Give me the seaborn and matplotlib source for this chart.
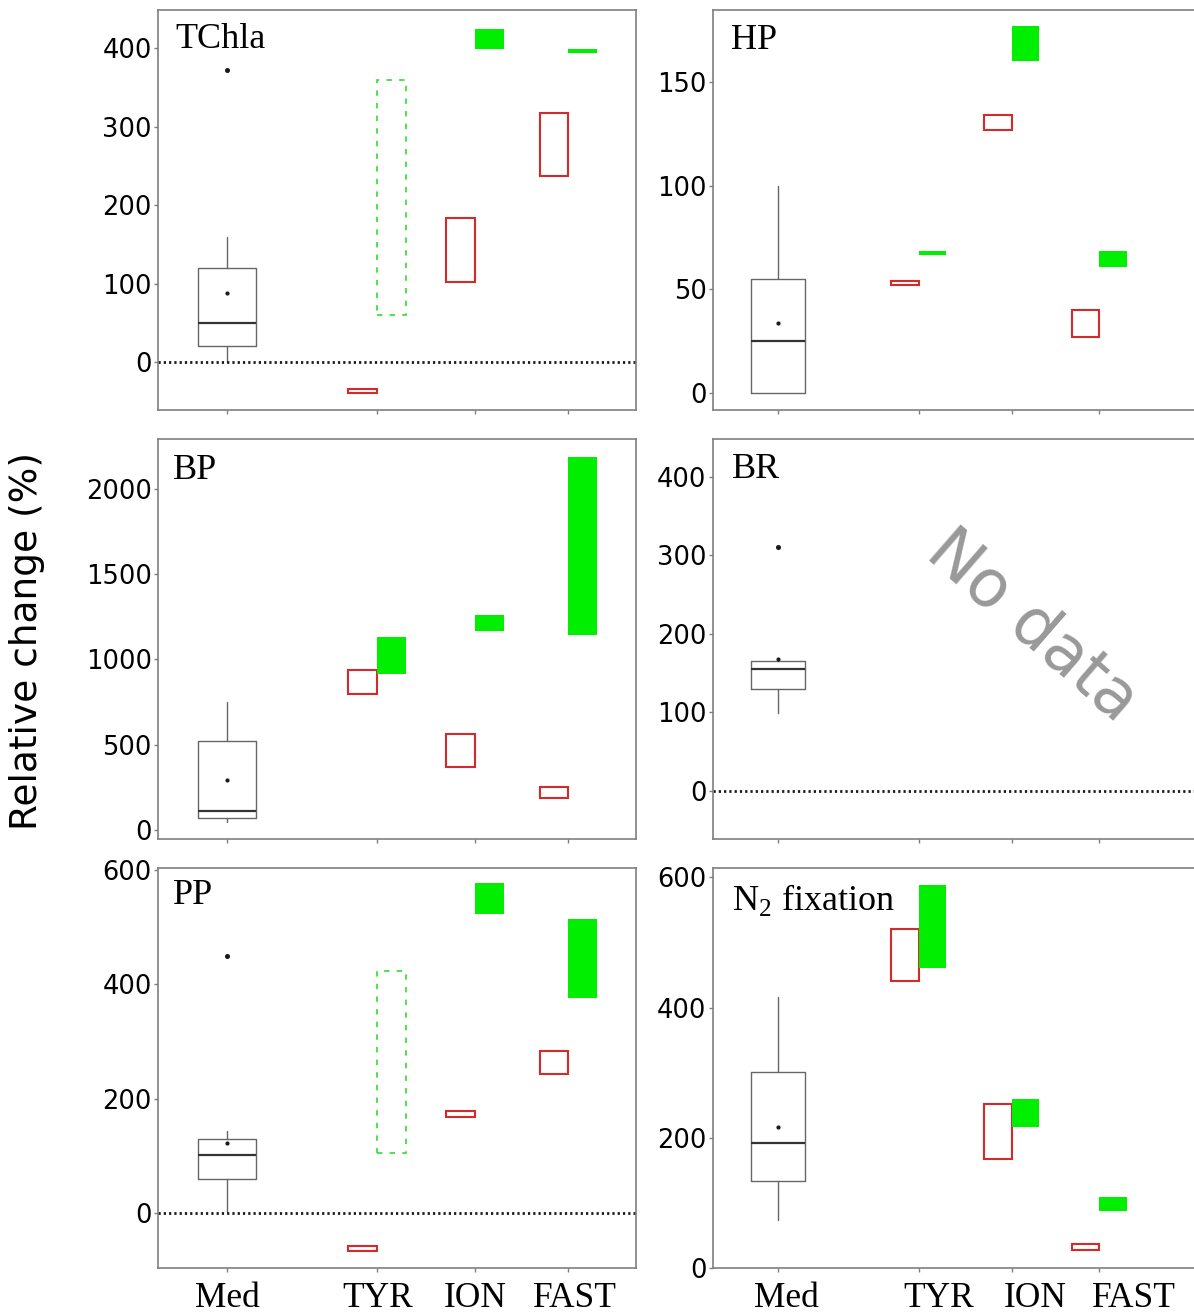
import matplotlib
import seaborn as sns
from matplotlib.transforms import ScaledTranslation, blended_transform_factory

matplotlib.use("Agg")
import matplotlib.pyplot as plt

# Categories and x positions of the regions
regions = ["Med", "TYR", "ION", "FAST"]
region_x = [1.0, 3.17, 4.6, 5.95]

panel_titles = ["TChla", "HP", "BP", "BR", "PP", r"N$_\mathregular{2}$ fixation"]
panel_yticks = [
    [0, 100, 200, 300, 400],
    [0, 50, 100, 150],
    [0, 500, 1000, 1500, 2000],
    [0, 100, 200, 300, 400],
    [0, 200, 400, 600],
    [0, 200, 400, 600],
]
panel_ylim = [(-61, 449), (-8.4, 185), (-55, 2291), (-62, 448), (-96, 604), (0, 615)]
zero_line = [True, False, False, True, True, False]

# Mediterranean box statistics (one value per panel)
med_q1 = [20, 0, 72, 130, 60, 134]
med_median = [50, 25, 113, 155, 101, 192]
med_q3 = [120, 55, 524, 165, 129, 301]
med_whislo = [0, 0, 49, 99, 1, 73]
med_whishi = [159, 100, 749, 165, 144, 417]
med_mean = [88, 33.5, 291, 168, 123, 216]
med_outliers = [[372], [], [], [311], [449], []]

# Ranges (low, high) for TYR, ION, FAST -- red outline boxes
tchla_red = [(-39, -34), (102, 184), (237, 317)]
hp_red = [(52, 54), (127, 134), (27, 40)]
bp_red = [(799, 940), (368, 563), (186, 252)]
br_red = [None, None, None]
pp_red = [(-67, -57), (168, 179), (243, 284)]
n2_red = [(441, 520), (167, 252), (28, 37)]

# Ranges (low, high) for TYR, ION, FAST -- green boxes
tchla_green = [(60, 359), (399, 425), (394.5, 399)]
hp_green = [(66.5, 68.5), (160, 177), (60.5, 68.4)]
bp_green = [(913, 1132), (1165, 1259), (1142, 2188)]
br_green = [None, None, None]
pp_green = [(105, 423), (523, 578), (376, 515)]
n2_green = [(461, 589), (216, 260), (87, 109)]

# Green boxes drawn as dashed outline instead of filled
tchla_dashed = [True, False, False]
hp_dashed = [False, False, False]
bp_dashed = [False, False, False]
br_dashed = [False, False, False]
pp_dashed = [True, False, False]
n2_dashed = [False, False, False]

red_sets = [tchla_red, hp_red, bp_red, br_red, pp_red, n2_red]
green_sets = [tchla_green, hp_green, bp_green, br_green, pp_green, n2_green]
dashed_sets = [tchla_dashed, hp_dashed, bp_dashed, br_dashed, pp_dashed, n2_dashed]

RED = "#d42a2a"
GREEN = "#00ee00"
SPINE = "#7f7f7f"

sns.set_theme(style="ticks")
plt.rcParams["font.family"] = ["DejaVu Sans"]
plt.rcParams["text.color"] = "black"
plt.rcParams["xtick.labelcolor"] = "black"
plt.rcParams["ytick.labelcolor"] = "black"
plt.rcParams["mathtext.fontset"] = "custom"
plt.rcParams["mathtext.rm"] = "Liberation Serif"

fig = plt.figure(figsize=(11.94, 13.16), dpi=100)

# axes rectangles in figure fractions (left col / right col, three rows)
col_left = [(0.1323, 0.4003), (0.5969, 0.433)]
row_bottom = [0.6884, 0.3622, 0.0365]
row_height = 0.3042
title_pos = [(0.036, 0.967), (0.035, 0.964), (0.031, 0.962), (0.037, 0.964), (0.031, 0.971), (0.037, 0.964)]
# horizontal nudges (px) of the bottom x labels, left / right column
label_shift = [[0, 1, 0, 6], [9, 20, 24, 34]]

for i in range(6):
    r, c = divmod(i, 2)
    left, width = col_left[c]
    ax = fig.add_axes([left, row_bottom[r], width, row_height])
    xmax = 478 / 69 if c == 0 else 517 / 65

    # Med box plot from the summary statistics
    stats = [dict(med=med_median[i], q1=med_q1[i], q3=med_q3[i],
                  whislo=med_whislo[i], whishi=med_whishi[i],
                  mean=med_mean[i], fliers=med_outliers[i], label="Med")]
    ax.bxp(stats, positions=[region_x[0]], widths=0.83, showmeans=True,
           showcaps=False, patch_artist=False,
           boxprops=dict(color="#666666", linewidth=1.0),
           whiskerprops=dict(color="#666666", linewidth=1.0),
           medianprops=dict(color="#333333", linewidth=1.6),
           meanprops=dict(marker="o", markerfacecolor="k", markeredgecolor="k", markersize=2),
           flierprops=dict(marker="o", markerfacecolor="k", markeredgecolor="k", markersize=2.6))

    # Red and green range boxes for each region
    for j, x in enumerate(region_x[1:]):
        rr = red_sets[i][j]
        if rr is not None:
            ax.bar(x, rr[1] - rr[0], bottom=rr[0], width=-0.42, align="edge",
                   facecolor="none", edgecolor=RED, linewidth=1.5)
        gr = green_sets[i][j]
        if gr is not None:
            if dashed_sets[i][j]:
                ax.bar(x, gr[1] - gr[0], bottom=gr[0], width=0.42, align="edge",
                       facecolor="none", edgecolor="#44dd44", linewidth=1.3,
                       linestyle=(0, (3, 4)))
            else:
                ax.bar(x, gr[1] - gr[0], bottom=gr[0], width=0.42, align="edge",
                       color=GREEN, edgecolor="none", linewidth=0)

    if zero_line[i]:
        ax.axhline(0, color="k", linestyle=(0, (0.8, 1.1)), linewidth=2)

    ax.set_xlim(0, xmax)
    ax.set_ylim(*panel_ylim[i])
    ax.set_yticks(panel_yticks[i])
    ax.set_xticks(region_x)
    ax.set_xticklabels([])
    if r == 2:
        base = blended_transform_factory(ax.transData, ax.transAxes)
        for name, x, dx in zip(regions, region_x, label_shift[c]):
            ax.text(x, 0, name, ha="center", va="top", fontfamily="Liberation Serif",
                    fontsize=25.5,
                    transform=base + ScaledTranslation(dx / 100, -0.145, fig.dpi_scale_trans))
    ax.tick_params(axis="y", labelsize=18.5, length=3, width=1, color=SPINE, pad=1.5)
    ax.tick_params(axis="x", length=3, width=1, color=SPINE)
    for sp in ax.spines.values():
        sp.set_color(SPINE)
        sp.set_linewidth(1.2)

    ax.text(title_pos[i][0], title_pos[i][1], panel_titles[i], transform=ax.transAxes,
            ha="left", va="top", fontfamily="Liberation Serif", fontsize=26)

    if br_red is red_sets[i]:
        ax.text(0.6176, 0.531, "No data", transform=ax.transAxes, rotation=-41,
                rotation_mode="anchor", ha="center", va="center",
                color="#999999", fontsize=47)

fig.text(27 / 1194, 1 - 641 / 1316, "Relative change (%)", rotation=90,
         ha="center", va="center", fontsize=27)

plt.savefig("out.png", dpi=100)
